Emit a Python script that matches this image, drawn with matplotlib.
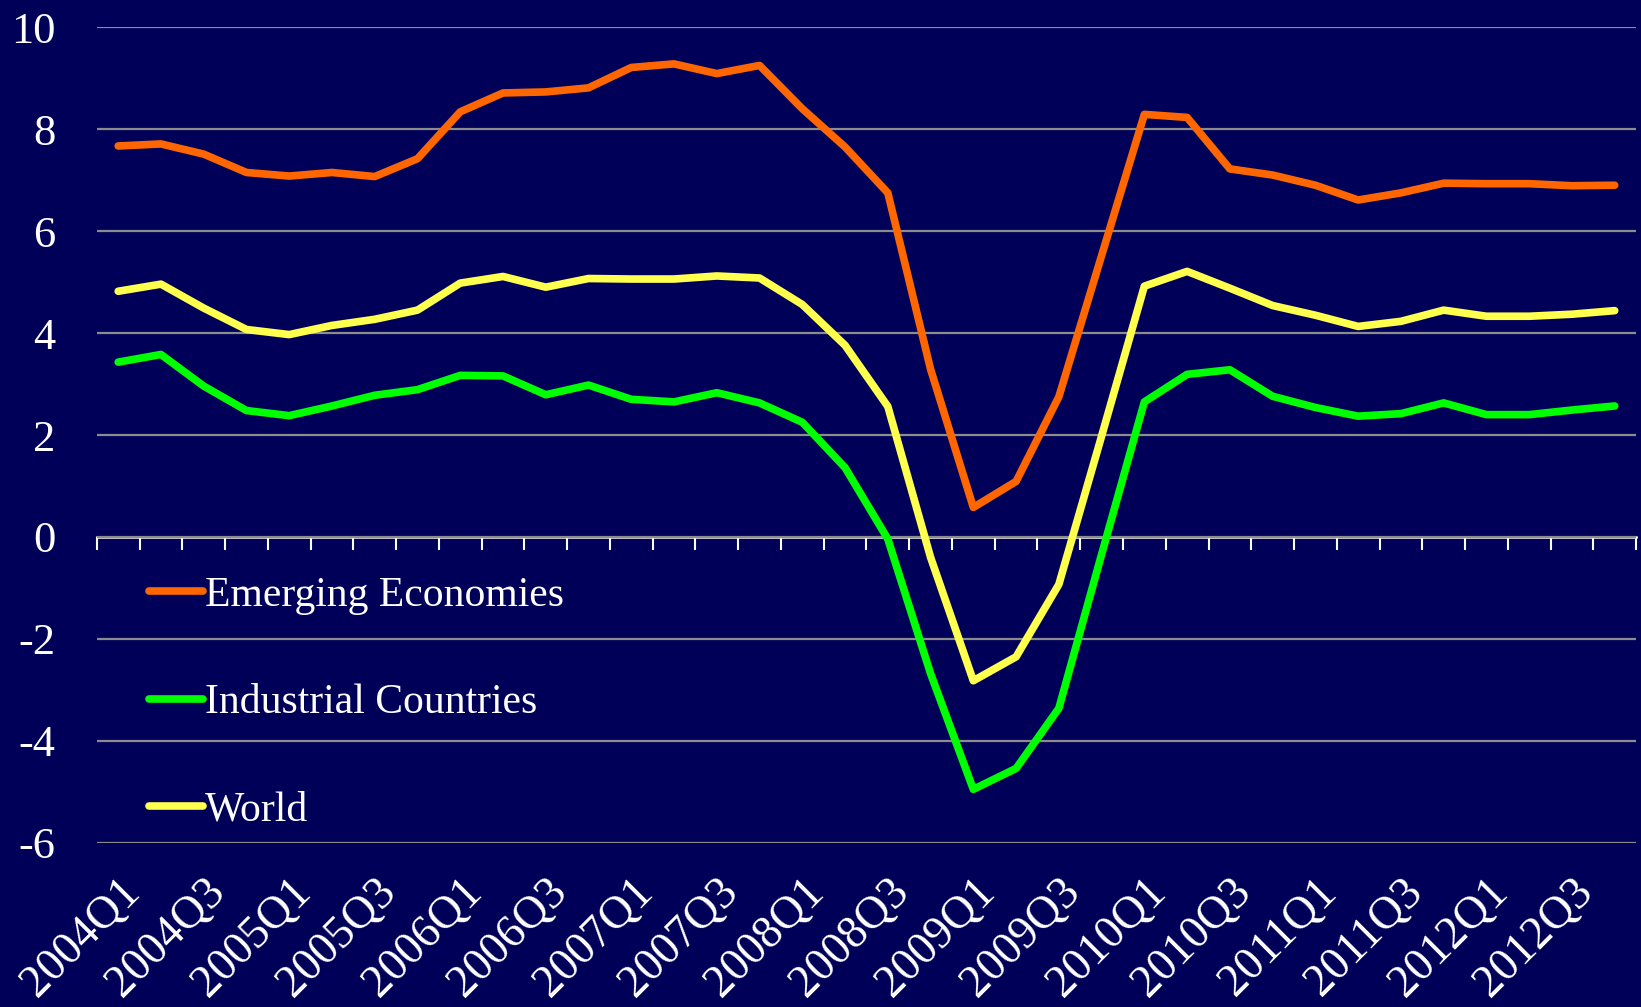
""" Real GDP growth: emerging vs industrial countries vs world. """
import numpy as np
import matplotlib
matplotlib.use("Agg")
import matplotlib.pyplot as plt
from matplotlib.transforms import ScaledTranslation

quarters = [f"{y}Q{q}" for y in range(2004, 2013) for q in range(1, 5)]

emerging = [7.67, 7.71, 7.51, 7.15, 7.08, 7.15, 7.07, 7.42, 8.34, 8.71,
            8.73, 8.81, 9.21, 9.28, 9.09, 9.25, 8.40, 7.65, 6.75, 3.29,
            0.58, 1.09, 2.75, 5.52, 8.29, 8.23, 7.22, 7.10, 6.90, 6.61,
            6.75, 6.94, 6.93, 6.93, 6.89, 6.90]
industrial = [3.43, 3.58, 2.96, 2.48, 2.38, 2.57, 2.78, 2.89, 3.17, 3.16,
              2.79, 2.98, 2.70, 2.65, 2.83, 2.63, 2.25, 1.36, -0.04, -2.68,
              -4.95, -4.54, -3.36, -0.34, 2.65, 3.19, 3.28, 2.76, 2.54, 2.37,
              2.42, 2.63, 2.40, 2.40, 2.49, 2.57]
world = [4.82, 4.96, 4.49, 4.07, 3.97, 4.15, 4.27, 4.45, 4.98, 5.11,
         4.90, 5.07, 5.06, 5.06, 5.12, 5.08, 4.56, 3.76, 2.56, -0.40,
         -2.82, -2.35, -0.93, 1.98, 4.92, 5.21, 4.88, 4.54, 4.35, 4.13,
         4.23, 4.45, 4.33, 4.33, 4.37, 4.44]

series = [("Emerging Economies", emerging, "#FF6600"),
          ("Industrial Countries", industrial, "#00FF00"),
          ("World", world, "#FFFF4D")]

BG = "#000058"
YMIN, YMAX = -6, 10


def main() -> None:
    """Draw the chart."""
    plt.rcParams["font.family"] = ["Liberation Serif", "DejaVu Serif"]

    fig = plt.figure(figsize=(16.41, 10.07), dpi=100, facecolor=BG)
    ax = fig.add_axes([0.059, 0.163, 0.938, 0.81], facecolor=BG)

    x = np.arange(len(quarters))
    for label, vals, color in series:
        ax.plot(x, vals, color=color, lw=5.5, label=label,
                solid_capstyle="round", zorder=3)

    ax.set_xlim(-0.5, len(quarters) - 0.5)
    ax.set_ylim(YMIN, YMAX)
    ax.set_yticks(np.arange(YMIN, YMAX + 1, 2))
    ax.set_yticklabels([str(v) for v in range(YMIN, YMAX + 1, 2)])
    ax.set_xticks(x[::2])
    ax.set_xticklabels(quarters[::2], rotation=45, ha="right",
                       rotation_mode="anchor")
    shift = ScaledTranslation(-8 / 72, 0, fig.dpi_scale_trans)
    for lbl in ax.get_xticklabels():
        lbl.set_transform(lbl.get_transform() + shift)

    ax.tick_params(axis="y", length=0, pad=30, labelsize=32, labelcolor="white")
    ax.tick_params(axis="x", length=0, pad=20, labelsize=33, labelcolor="white")
    for s in ax.spines.values():
        s.set_visible(False)
    ax.grid(axis="y", color="#8C8C8C", lw=1.6)
    ax.set_axisbelow(True)

    # category axis crossing at zero, tick marks between quarters
    zero_pos = (0 - YMIN) / (YMAX - YMIN)
    sec = ax.secondary_xaxis(zero_pos)
    sec.set_xticks(np.arange(-0.5, len(quarters), 1))
    sec.tick_params(axis="x", direction="out", length=9, width=1.5,
                    color="white", labelbottom=False)
    sec.spines["bottom"].set_color("white")
    sec.spines["bottom"].set_linewidth(1.8)

    leg = ax.legend(loc="upper left", bbox_to_anchor=(0.023, 0.347),
                    frameon=False, fontsize=30, handlelength=1.3,
                    handletextpad=0.05, labelspacing=1.65,
                    borderaxespad=0)
    for txt in leg.get_texts():
        txt.set_color("white")

    fig.savefig("out.png", dpi=100, facecolor=BG)
    plt.close(fig)


if __name__ == "__main__":
    main()
